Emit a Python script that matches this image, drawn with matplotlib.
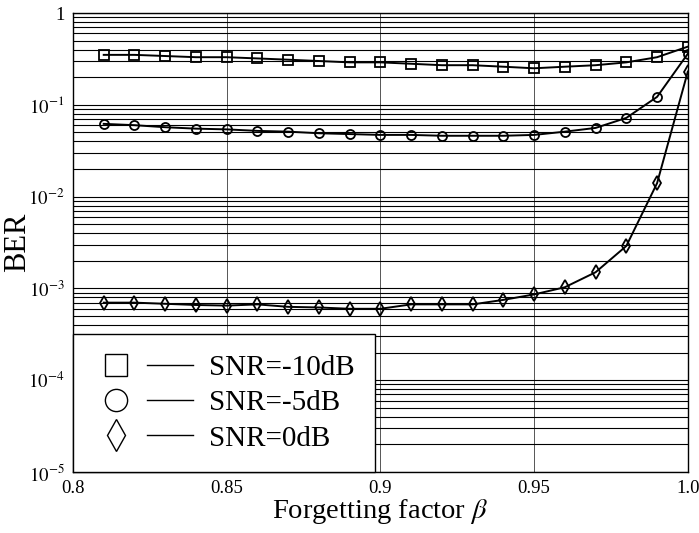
import matplotlib
matplotlib.use('Agg')
import matplotlib.pyplot as plt
from matplotlib.lines import Line2D
from matplotlib.legend_handler import HandlerTuple
from matplotlib.ticker import FixedLocator, LogLocator, FixedFormatter

plt.rcParams['font.family'] = ['Liberation Serif', 'DejaVu Serif']
plt.rcParams['mathtext.fontset'] = 'stix'

# 遗忘因子 beta
beta = [0.81, 0.82, 0.83, 0.84, 0.85, 0.86, 0.87, 0.88, 0.89, 0.90,
        0.91, 0.92, 0.93, 0.94, 0.95, 0.96, 0.97, 0.98, 0.99, 1.00]

ber_snr_m10 = [0.35, 0.35, 0.34, 0.33, 0.33, 0.32, 0.31, 0.30, 0.29, 0.29,
               0.28, 0.27, 0.27, 0.26, 0.25, 0.26, 0.27, 0.29, 0.33, 0.43]
ber_snr_m5 = [0.062, 0.060, 0.057, 0.055, 0.054, 0.052, 0.051, 0.049, 0.048, 0.047,
              0.047, 0.046, 0.046, 0.046, 0.047, 0.051, 0.056, 0.072, 0.122, 0.36]
ber_snr_0 = [7.0e-4, 7.0e-4, 6.8e-4, 6.6e-4, 6.5e-4, 6.7e-4, 6.3e-4, 6.2e-4, 6.0e-4, 6.0e-4,
             6.7e-4, 6.7e-4, 6.7e-4, 7.5e-4, 8.6e-4, 1.03e-3, 1.5e-3, 2.9e-3, 1.4e-2, 0.23]

labels = ['SNR=-10dB', 'SNR=-5dB', 'SNR=0dB']
markers = ['s', 'o', 'd']

fig = plt.figure(figsize=(6.99, 5.33), dpi=100)
ax = fig.add_axes([0.1044, 0.1144, 0.8796, 0.8612])

for ber, m in zip([ber_snr_m10, ber_snr_m5, ber_snr_0], markers):
    ax.semilogy(beta, ber, color='black', lw=1.4, marker=m, ms=6.5 if m != 'd' else 7.5,
                mfc='none', mec='black', mew=1.3, zorder=3)

ax.set_xlim(0.8, 1.0)
ax.set_ylim(1e-5, 1)

ax.xaxis.set_major_locator(FixedLocator([0.8, 0.85, 0.9, 0.95, 1.0]))
ax.xaxis.set_major_formatter(FixedFormatter(['0.8', '0.85', '0.9', '0.95', '1.0']))
ax.yaxis.set_major_locator(FixedLocator([1e-5, 1e-4, 1e-3, 1e-2, 1e-1, 1]))
ax.yaxis.set_major_formatter(FixedFormatter(
    [r'$10^{-5}$', r'$10^{-4}$', r'$10^{-3}$', r'$10^{-2}$', r'$10^{-1}$', '1']))
ax.yaxis.set_minor_locator(LogLocator(base=10, subs=range(2, 10)))
ax.yaxis.set_minor_formatter(FixedFormatter([]))

ax.tick_params(which='both', length=0, labelsize=13.5, pad=6)
ax.grid(axis='x', which='major', color='#555555', lw=0.7)
ax.grid(axis='y', which='both', color='black', lw=0.8)
for s in ax.spines.values():
    s.set_linewidth(1.0)

ax.set_xlabel(r'Forgetting factor $\beta$', fontsize=20.5, labelpad=0)
ax.set_ylabel('BER', fontsize=22)
ax.yaxis.set_label_coords(-0.066, 0.5)

handles = []
for m in markers:
    mk = Line2D([], [], ls='none', marker=m, ms=16, mfc='none', mec='black', mew=1.0)
    ln = Line2D([], [], color='black', lw=1.0)
    handles.append((mk, ln))

leg = ax.legend(handles, labels, loc='lower left', borderaxespad=0, fontsize=21,
                handler_map={tuple: HandlerTuple(ndivide=None, pad=0.31)},
                handlelength=3.4, handletextpad=0.55, labelspacing=0.3,
                borderpad=0.7, fancybox=False, framealpha=1, edgecolor='black')
leg.get_frame().set_linewidth(1.0)
leg.set_zorder(5)

plt.savefig('out.png', dpi=100)
